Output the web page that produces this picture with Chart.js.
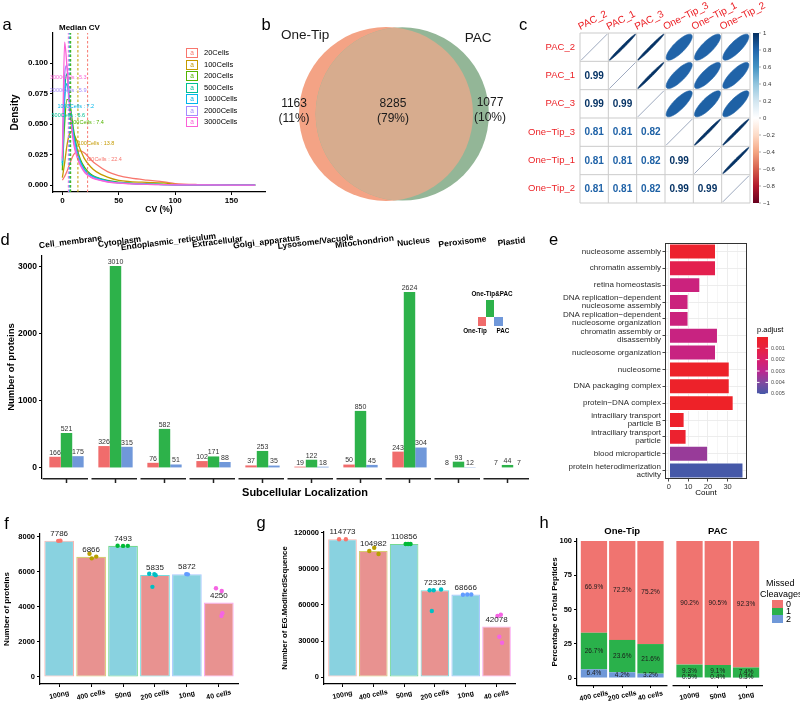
<!DOCTYPE html>
<html>
<head>
<meta charset="utf-8">
<title>Figure</title>
<script src="https://cdn.jsdelivr.net/npm/chart.js@4.4.1/dist/chart.umd.min.js"></script>
<style>
html,body{margin:0;padding:0;background:#fff;}
#root{position:relative;width:800px;height:706px;overflow:hidden;background:#fff;font-family:'Liberation Sans',Arial,Helvetica,sans-serif;color:#000;}
#root canvas{position:absolute;}
.tx{position:absolute;white-space:nowrap;line-height:1;}
.bx{position:absolute;box-sizing:border-box;}
</style>
</head>
<body>
<div id="root"></div>
<script>
/* ===================== DATA ===================== */
/* a: CV density */
const cvGroups = ['20Cells','100Cells','200Cells','500Cells','1000Cells','2000Cells','3000Cells'];
const cvX = [0,2,4,6,8,10,13,16,20,25,30,40,50,60,75,90,100,120,150,171];
const dens20Cells   = [0.004,0.007,0.011,0.016,0.021,0.025,0.0275,0.028,0.026,0.021,0.017,0.011,0.0078,0.0058,0.004,0.0026,0.0012,0.0004,0.0002,0.0001];
const dens100Cells  = [0.006,0.018,0.032,0.041,0.044,0.042,0.036,0.029,0.021,0.015,0.011,0.0065,0.0038,0.0028,0.0022,0.0017,0.0006,0.0002,0.0001,0.0001];
const dens200Cells  = [0.012,0.050,0.070,0.070,0.058,0.045,0.030,0.021,0.014,0.009,0.0065,0.0038,0.0024,0.0016,0.0009,0.0005,0.0003,0.0001,0.0001,0];
const dens500Cells  = [0.016,0.075,0.091,0.072,0.054,0.040,0.027,0.019,0.012,0.008,0.0058,0.0033,0.002,0.0013,0.0007,0.0004,0.0002,0.0001,0,0];
const dens1000Cells = [0.018,0.070,0.083,0.070,0.054,0.041,0.028,0.019,0.012,0.008,0.0058,0.0033,0.002,0.0013,0.0007,0.0004,0.0002,0.0001,0,0];
const dens2000Cells = [0.020,0.090,0.098,0.072,0.051,0.037,0.025,0.017,0.011,0.007,0.005,0.0028,0.0017,0.0011,0.0006,0.0003,0.0002,0.0001,0,0];
const dens3000Cells = [0.022,0.117,0.098,0.070,0.049,0.034,0.023,0.016,0.010,0.0065,0.0046,0.0025,0.0015,0.001,0.0005,0.0003,0.0002,0.0001,0,0];
const medianCV = [22.4,13.8,7.4,6.6,7.2,5.9,5.3];
const densTicksX = [0,50,100,150];
const densTicksY = [0,0.025,0.05,0.075,0.1];

/* b: Venn */
const vennSets = ['One-Tip','PAC'];
const vennOnly = [1163,1077];
const vennShared = 8285;

/* c: correlation */
const corrLabels = ['PAC_2','PAC_1','PAC_3','One\u2212Tip_3','One\u2212Tip_1','One\u2212Tip_2'];
const corrMatrix = [
  [1.00,0.99,0.99,0.81,0.81,0.81],
  [0.99,1.00,0.99,0.81,0.81,0.81],
  [0.99,0.99,1.00,0.82,0.82,0.82],
  [0.81,0.81,0.82,1.00,0.99,0.99],
  [0.81,0.81,0.82,0.99,1.00,0.99],
  [0.81,0.81,0.82,0.99,0.99,1.00]];
const corrBarTicks = [1,0.8,0.6,0.4,0.2,0,-0.2,-0.4,-0.6,-0.8,-1];

/* d: subcellular localization */
const locCategories = ['Cell_membrane','Cytoplasm','Endoplasmic_reticulum','Extracellular','Golgi_apparatus','Lysosome/Vacuole','Mitochondrion','Nucleus','Peroxisome','Plastid'];
const locGroups = ['One-Tip','One-Tip&PAC','PAC'];
const locOneTip = [166,326,76,102,37,19,50,243,8,7];
const locBoth   = [521,3010,582,171,253,122,850,2624,93,44];
const locPAC    = [175,315,51,88,35,18,45,304,12,7];
const locTicksY = [0,1000,2000,3000];

/* e: GO enrichment */
const goTerms = ['nucleosome assembly','chromatin assembly','retina homeostasis',
  ['DNA replication\u2212dependent','nucleosome assembly'],
  ['DNA replication\u2212dependent','nucleosome organization'],
  ['chromatin assembly or','disassembly'],
  'nucleosome organization','nucleosome','DNA packaging complex','protein\u2212DNA complex',
  ['intraciliary transport','particle B'],['intraciliary transport','particle'],
  'blood microparticle',['protein heterodimerization','activity']];
const goCount = [24,24,16,10,10,25,24,31,31,33,8,9,20,38];
const goPadj  = [0.00025,0.00135,0.0025,0.0025,0.0025,0.0026,0.0026,0.0001,0.0001,0.00001,0.0002,0.0003,0.0036,0.00502];
const goTicksX = [0,5,10,15,20,25,30,35];
const padjTicks = [0.001,0.002,0.003,0.004,0.005];

/* f: number of proteins */
const fgSamples = ['100ng','400 cells','50ng','200 cells','10ng','40 cells'];
const protMeans = [7786,6866,7493,5835,5872,4250];
const protReps  = [[7780,7790],[7040,6780,6880],[7500,7490,7495],[5900,5880,5820,5150],[5880,5865],[5070,4910,3640,3490]];
const protJit   = [[-0.03,0.04],[-0.05,0.02,0.16],[-0.17,0.0,0.15],[-0.18,-0.02,0.02,-0.08],[-0.02,0.03],[-0.09,0.09,0.11,0.08]];
const protTicksY = [0,2000,4000,6000,8000];

/* g: number of EG.ModifiedSequence */
const pepMeans = [114773,104982,110856,72323,68666,42078];
const pepReps  = [[114773,114773],[105000,107700,102500],[110856,110856,110856],[72300,72300,72900,55000],[68600,68700,68700],[50800,51900,33600,28600]];
const pepJit   = [[-0.11,0.11],[-0.13,0.03,0.17],[0.05,0.13,0.21],[-0.17,-0.04,0.2,-0.1],[-0.09,0.05,0.18],[0.03,0.14,0.09,0.18]];
const pepTicksY = [0,30000,60000,90000,120000];

/* h: missed cleavages */
const hSamples = ['400 cells','200 cells','40 cells','100ng','50ng','10ng'];
const hFacet   = ['One-Tip','One-Tip','One-Tip','PAC','PAC','PAC'];
const mcLevels = ['0','1','2'];
const mc0 = [66.9,72.2,75.2,90.2,90.5,92.3];
const mc1 = [26.7,23.6,21.6,9.3,9.1,7.4];
const mc2 = [6.4,4.2,3.2,0.5,0.4,0.3];
const hTicksY = [0,25,50,75,100];

/* ===================== STYLE ===================== */
const FF = "'Liberation Sans', Arial, Helvetica, sans-serif";
const hue7 = ['#F8766D','#C49A00','#53B400','#00C094','#00B6EB','#A58AFF','#FB61D7'];
const hue6 = ['#F8766D','#B79F00','#00BA38','#00BFC4','#619CFF','#F564E3'];
const locColors = ['#F06C6C','#2DB24A','#7098DA'];
const mcColors = ['#F07470','#2AB14B','#6F98D8'];
const sampleFill = ['#89D2E0','#E89290','#89D2E0','#E89290','#89D2E0','#E89290'];
const vennColors = ['#F4A385','#93B697'];
const vennOverlap = '#D7AC8E';
const rdbu = ['#67001F','#B2182B','#D6604D','#F4A582','#FDDBC7','#FFFFFF','#D1E5F0','#92C5DE','#4393C3','#2166AC','#053061'];
const padjStops = [[0,'#EE2228'],[0.2,'#E8213F'],[0.4,'#D91E6C'],[0.6,'#BC2690'],[0.8,'#7F4AA0'],[1,'#4558A8']];

Chart.defaults.font.family = FF;
Chart.defaults.color = '#000';

function hexA(hex,a){const n=parseInt(hex.slice(1),16);return 'rgba('+((n>>16)&255)+','+((n>>8)&255)+','+(n&255)+','+a+')';}
function lerpColor(stops,t){
  t=Math.max(0,Math.min(1,t));
  for(let i=1;i<stops.length;i++){
    if(t<=stops[i][0]){
      const t0=stops[i-1][0],c0=stops[i-1][1],t1=stops[i][0],c1=stops[i][1];
      const u=(t-t0)/(t1-t0);const a=parseInt(c0.slice(1),16),b=parseInt(c1.slice(1),16);
      const r=Math.round(((a>>16)&255)*(1-u)+((b>>16)&255)*u),g=Math.round(((a>>8)&255)*(1-u)+((b>>8)&255)*u),bl=Math.round((a&255)*(1-u)+(b&255)*u);
      return 'rgb('+r+','+g+','+bl+')';
    }
  }
  return stops[stops.length-1][1];
}
const rdbuStops = rdbu.map((c,i)=>[i/10,c]);
function corrColor(r){return lerpColor(rdbuStops,(r+1)/2);}
const padjMin=Math.min(...goPadj), padjMax=Math.max(...goPadj);
function padjColor(p){return lerpColor(padjStops,(p-padjMin)/(padjMax-padjMin));}

const root=document.getElementById('root');
function mkCanvas(x,y,w,h){const c=document.createElement('canvas');c.width=w;c.height=h;c.style.left=x+'px';c.style.top=y+'px';c.style.width=w+'px';c.style.height=h+'px';root.appendChild(c);return c;}
function mkText(s,x,y,css,anchor){const d=document.createElement('div');d.className='tx';d.textContent=s;d.style.cssText+='left:'+x+'px;top:'+y+'px;'+(css||'');
  d.style.transform={c:'translate(-50%,-50%)',l:'translate(0,-50%)',r:'translate(-100%,-50%)'}[anchor||'l'];root.appendChild(d);return d;}
function mkBox(x,y,w,h,css){const d=document.createElement('div');d.className='bx';d.style.cssText+='left:'+x+'px;top:'+y+'px;width:'+w+'px;height:'+h+'px;'+(css||'');root.appendChild(d);return d;}
const fixW=w=>s=>{s.width=w;};
const fixH=h=>s=>{s.height=h;};
const setTicks=v=>s=>{s.ticks=v.map(x=>({value:x}));};
const gridT=()=>({display:true,drawOnChartArea:false,drawTicks:true,tickLength:3,color:'#000',tickColor:'#000',tickWidth:1,offset:false});
const bord=()=>({display:true,color:'#000',width:1.2});
function common(extra){return Object.assign({responsive:false,maintainAspectRatio:false,animation:false,devicePixelRatio:1,events:[],
  plugins:{legend:{display:false},tooltip:{enabled:false}}},extra);}
const deg=Math.PI/180;

/* ===================== PANEL a ===================== */
const densSeries=[dens20Cells,dens100Cells,dens200Cells,dens500Cells,dens1000Cells,dens2000Cells,dens3000Cells];
const aX={min:-8.3,max:179.7}, aY={min:-0.0057,max:0.1246};
const medianLabelAt={x:[37.9,29.9,21.9,5.3,11.9,5.1,5.3],y:[0.0213,0.0342,0.0514,0.0568,0.0642,0.0773,0.0880]};
const aDs=[];
cvGroups.forEach((g,i)=>aDs.push({label:g,data:cvX.map((x,k)=>({x:x,y:densSeries[i][k]})),borderColor:hue7[i],backgroundColor:hue7[i],borderWidth:1.3,pointRadius:0,cubicInterpolationMode:'monotone',fill:false,order:20-i}));
cvGroups.forEach((g,i)=>aDs.push({label:g+' median',data:[{x:medianCV[i],y:aY.min},{x:medianCV[i],y:aY.max}],borderColor:hue7[i],borderWidth:1,borderDash:[2.5,2],pointRadius:0,fill:false,order:1}));
const medianLabelPlugin={id:'medlab',afterDatasetsDraw(chart){
  const {ctx,scales:{x,y}}=chart;ctx.save();ctx.font='5.5px '+FF;ctx.textAlign='center';ctx.textBaseline='middle';
  cvGroups.forEach((g,i)=>{ctx.fillStyle=hue7[i];ctx.fillText(g+' : '+medianCV[i],x.getPixelForValue(medianLabelAt.x[i]),y.getPixelForValue(medianLabelAt.y[i]));});
  ctx.restore();}};
new Chart(mkCanvas(0,0,270,215),{type:'line',data:{datasets:aDs},options:common({layout:{padding:{left:0,top:33,right:5,bottom:0}},scales:{
  x:{type:'linear',min:aX.min,max:aX.max,offset:false,afterBuildTicks:setTicks(densTicksX),afterFit:fixH(23),grid:gridT(),border:bord(),
     ticks:{font:{size:8,weight:'bold'},color:'#000',padding:1,maxRotation:0,autoSkip:false,callback:v=>String(v)},
     title:{display:true,text:'CV (%)',font:{size:8.5,weight:'bold'},color:'#000',padding:{top:0,bottom:0}}},
  y:{type:'linear',min:aY.min,max:aY.max,afterBuildTicks:setTicks(densTicksY),afterFit:fixW(53),grid:gridT(),border:bord(),
     ticks:{font:{size:8,weight:'bold'},color:'#000',padding:2,autoSkip:false,callback:v=>Number(v).toFixed(3)},
     title:{display:true,text:'Density',font:{size:10,weight:'bold'},color:'#000',padding:{top:9,bottom:0}}}
}}),plugins:[medianLabelPlugin]});
mkText('Median CV',59,28,'font-size:8px;font-weight:bold;');
cvGroups.forEach((g,i)=>{const cy=53+11.5*i;
  mkBox(186,cy-5,12,10,'border:1.4px solid '+hue7[i]+';background:#fff;');
  mkText('a',192,cy,'font-size:6.5px;color:'+hue7[i]+';','c');
  mkText(g,204,cy,'font-size:7.5px;');});

/* ===================== PANEL b ===================== */
function lens(r1,r2,d){if(d>=r1+r2)return 0;if(d<=Math.abs(r1-r2))return Math.PI*Math.min(r1,r2)**2;
  const a=r1*r1*Math.acos((d*d+r1*r1-r2*r2)/(2*d*r1)),b=r2*r2*Math.acos((d*d+r2*r2-r1*r1)/(2*d*r2));
  const c=0.5*Math.sqrt((-d+r1+r2)*(d+r1-r2)*(d-r1+r2)*(d+r1+r2));return a+b-c;}
const vennSize=[vennOnly[0]+vennShared,vennOnly[1]+vennShared];
const vennTotal=vennOnly[0]+vennOnly[1]+vennShared;
const vennR=[1,Math.sqrt(vennSize[1]/vennSize[0])];
let vlo=Math.abs(vennR[0]-vennR[1])+1e-9,vhi=vennR[0]+vennR[1];
const vTarget=Math.PI*vennShared/vennSize[0];
for(let k=0;k<80;k++){const m=(vlo+vhi)/2;if(lens(vennR[0],vennR[1],m)>vTarget)vlo=m;else vhi=m;}
const vennD=(vlo+vhi)/2;
const vennText={setX:[-0.93,1.06],setY:[0.908,0.874],cntX:[-1.057,0.08,1.195],cntY:[0.034,0.034,0.046]};
const vennPlugin={id:'venn',afterDatasetsDraw(chart){
  const {ctx,scales:{x,y}}=chart;const pts=chart.getDatasetMeta(0).data;
  ctx.save();ctx.beginPath();ctx.arc(pts[0].x,pts[0].y,pts[0].options.radius,0,2*Math.PI);ctx.clip();
  ctx.beginPath();ctx.arc(pts[1].x,pts[1].y,pts[1].options.radius,0,2*Math.PI);ctx.fillStyle=vennOverlap;ctx.fill();ctx.restore();
  ctx.save();ctx.fillStyle='#1a1a1a';ctx.textAlign='center';ctx.textBaseline='middle';
  ctx.font='13.5px '+FF;
  vennSets.forEach((s,i)=>ctx.fillText(s,x.getPixelForValue(vennText.setX[i]),y.getPixelForValue(vennText.setY[i])));
  ctx.font='12px '+FF;
  const counts=[vennOnly[0],vennShared,vennOnly[1]];
  counts.forEach((c,i)=>{const px=x.getPixelForValue(vennText.cntX[i]),py=y.getPixelForValue(vennText.cntY[i]);
    ctx.fillText(String(c),px,py-7);ctx.fillText('('+Math.round(100*c/vennTotal)+'%)',px,py+7.5);});
  ctx.restore();}};
new Chart(mkCanvas(270,0,250,215),{type:'scatter',data:{datasets:[{data:[{x:0,y:0},{x:vennD,y:0}],backgroundColor:vennColors,borderWidth:0,clip:false,
  pointRadius:ctx=>{const s=ctx.chart.scales.x;if(!s||ctx.dataIndex===undefined)return 0;const v=s.getPixelForValue(vennR[ctx.dataIndex])-s.getPixelForValue(0);return isFinite(v)&&v>0?v:0;}}]},
  options:common({layout:{padding:0},scales:{x:{type:'linear',display:false,min:-1.3333,max:1.540},y:{type:'linear',display:false,min:-1.161,max:1.310}}}),plugins:[vennPlugin]});

/* ===================== PANEL c ===================== */
const corrCells=[];
corrLabels.forEach((r,i)=>corrLabels.forEach((c,j)=>corrCells.push({x:j+1,y:i+1,v:corrMatrix[i][j],i:i,j:j})));
const corrPlugin={id:'corr',
  beforeDatasetsDraw(chart){const {ctx,scales:{x,y}}=chart;const n=corrLabels.length;ctx.save();ctx.strokeStyle='#CBCBCB';ctx.lineWidth=1;ctx.beginPath();
    for(let k=0;k<=n;k++){const px=x.getPixelForValue(k+0.5),py=y.getPixelForValue(k+0.5);
      ctx.moveTo(px,y.getPixelForValue(0.5));ctx.lineTo(px,y.getPixelForValue(n+0.5));ctx.moveTo(x.getPixelForValue(0.5),py);ctx.lineTo(x.getPixelForValue(n+0.5),py);}
    ctx.stroke();ctx.restore();},
  afterDatasetsDraw(chart){const {ctx,scales:{x}}=chart;const pts=chart.getDatasetMeta(0).data;const cw=x.getPixelForValue(2)-x.getPixelForValue(1);const a=cw*0.46;
    ctx.save();
    pts.forEach((p,k)=>{const c=corrCells[k];const col=corrColor(c.v);
      if(c.i>c.j){ctx.fillStyle=col;ctx.font='bold 10px '+FF;ctx.textAlign='center';ctx.textBaseline='middle';ctx.fillText(c.v.toFixed(2),p.x,p.y+0.5);}
      else if(c.i<c.j){const d=Math.acos(c.v);ctx.beginPath();
        for(let t=0;t<=72;t++){const th=t/72*2*Math.PI;const ex=Math.cos(th+d/2)*a,ey=Math.cos(th-d/2)*a;if(t===0)ctx.moveTo(p.x+ex,p.y-ey);else ctx.lineTo(p.x+ex,p.y-ey);}
        ctx.closePath();ctx.fillStyle=col;ctx.fill();ctx.strokeStyle=col;ctx.lineWidth=0.6;ctx.stroke();}
      else{ctx.beginPath();ctx.moveTo(p.x-a,p.y+a);ctx.lineTo(p.x+a,p.y-a);ctx.strokeStyle='#8593AE';ctx.lineWidth=0.8;ctx.stroke();}});
    ctx.restore();},
  afterDraw(chart){const {ctx,chartArea:ar,scales:{x,y,cb}}=chart;ctx.save();
    ctx.fillStyle='#EC2227';ctx.font='9.5px '+FF;ctx.textAlign='right';ctx.textBaseline='middle';
    corrLabels.forEach((l,i)=>ctx.fillText(l,ar.left-5,y.getPixelForValue(i+1)));
    ctx.textAlign='left';ctx.textBaseline='alphabetic';ctx.font='10px '+FF;
    corrLabels.forEach((l,j)=>{ctx.save();ctx.translate(x.getPixelForValue(j+1)-14,ar.top-3);ctx.rotate(-27*deg);ctx.fillText(l,0,0);ctx.restore();});
    const top=cb.getPixelForValue(1),bot=cb.getPixelForValue(-1),x0=ar.right+3,w=6;
    const gr=ctx.createLinearGradient(0,top,0,bot);for(let k=0;k<=20;k++){gr.addColorStop(k/20,corrColor(1-2*k/20));}
    ctx.fillStyle=gr;ctx.fillRect(x0,top,w,bot-top);
    ctx.font='6px '+FF;ctx.fillStyle='#333';ctx.strokeStyle='#777';ctx.lineWidth=0.6;ctx.textBaseline='middle';
    corrBarTicks.forEach(v=>{const py=cb.getPixelForValue(v);ctx.beginPath();ctx.moveTo(x0+w,py);ctx.lineTo(x0+w+2,py);ctx.stroke();
      ctx.fillText(v===0?'0':(v<0?'\u2212':'')+Math.abs(v),x0+w+4,py);});
    ctx.restore();}};
new Chart(mkCanvas(520,0,280,215),{type:'scatter',data:{datasets:[{data:corrCells,pointRadius:0,yAxisID:'y',xAxisID:'x'}]},
  options:common({layout:{padding:{left:60,right:50,top:33,bottom:12}},scales:{x:{type:'linear',display:false,min:0.5,max:6.5},y:{type:'linear',display:false,min:0.5,max:6.5,reverse:true},cb:{type:'linear',axis:'y',display:false,min:-1,max:1}}}),plugins:[corrPlugin]});

/* ===================== PANEL d ===================== */
const locSeries=[locOneTip,locBoth,locPAC];
const dPlugin={id:'dplug',afterDraw(chart){const {ctx,chartArea:ar,scales:{x}}=chart;const n=locCategories.length;const w=(ar.right-ar.left)/n;
  ctx.save();ctx.strokeStyle='#222';ctx.lineWidth=1.5;
  for(let i=0;i<n;i++){const cx=x.getPixelForValue(i);ctx.beginPath();ctx.moveTo(ar.left+i*w+0.5,ar.bottom+0.75);ctx.lineTo(ar.left+(i+1)*w-3,ar.bottom+0.75);
    ctx.moveTo(cx,ar.bottom);ctx.lineTo(cx,ar.bottom+5);ctx.stroke();}
  ctx.fillStyle='#333';ctx.font='7px '+FF;ctx.textAlign='center';ctx.textBaseline='bottom';
  locSeries.forEach((s,k)=>{chart.getDatasetMeta(k).data.forEach((b,i)=>ctx.fillText(String(s[i]),b.x,b.y-0.5));});
  ctx.fillStyle='#000';ctx.font='bold 8.5px '+FF;ctx.textBaseline='middle';
  locCategories.forEach((c,i)=>{ctx.save();ctx.translate(x.getPixelForValue(i)+4,ar.top-14);ctx.rotate(-7*deg);ctx.fillText(c,0,0);ctx.restore();});
  ctx.restore();}};
new Chart(mkCanvas(0,225,540,280),{type:'bar',data:{labels:locCategories,datasets:locGroups.map((g,k)=>({label:g,data:locSeries[k],backgroundColor:locColors[k],categoryPercentage:0.7,barPercentage:1.0,borderWidth:0}))},
  options:common({layout:{padding:{left:0,top:31,right:8,bottom:27}},scales:{
    x:{display:false,offset:true},
    y:{type:'linear',min:-150.5,max:3160.5,afterBuildTicks:setTicks(locTicksY),afterFit:fixW(42),grid:gridT(),border:bord(),
       ticks:{font:{size:8.5,weight:'bold'},color:'#000',padding:2,autoSkip:false,callback:v=>String(v)},
       title:{display:true,text:'Number of proteins',font:{size:9.5,weight:'bold'},color:'#000',padding:{top:6,bottom:0}}}}}),plugins:[dPlugin]});
mkText('Subcellular Localization',305,492,'font-size:11px;font-weight:bold;','c');
mkBox(486,300,8,17,'background:'+locColors[1]+';');
mkBox(478,317,8,9,'background:'+locColors[0]+';');
mkBox(494,317,8.5,9,'background:'+locColors[2]+';');
mkText(locGroups[1],492,294,'font-size:6.3px;font-weight:bold;','c');
mkText(locGroups[0],475,331,'font-size:6.3px;font-weight:bold;','c');
mkText(locGroups[2],503,331,'font-size:6.3px;font-weight:bold;','c');

/* ===================== PANEL e ===================== */
const ePlugin={id:'eplug',
  afterDatasetsDraw(chart){const {ctx,chartArea:ar}=chart;ctx.save();ctx.strokeStyle='#333';ctx.lineWidth=1;ctx.strokeRect(ar.left+0.5,ar.top+0.5,ar.right-ar.left-1,ar.bottom-ar.top-1);ctx.restore();},
  afterDraw(chart){const {ctx,chartArea:ar}=chart;const lx=ar.right+10,ly0=ar.top+94,ly1=ar.top+151,w=11;ctx.save();
    ctx.fillStyle='#000';ctx.font='7.5px '+FF;ctx.textAlign='left';ctx.textBaseline='bottom';ctx.fillText('p.adjust',lx,ly0-3);
    const gr=ctx.createLinearGradient(0,ly0,0,ly1);padjStops.forEach(s=>gr.addColorStop(s[0],s[1]));ctx.fillStyle=gr;ctx.fillRect(lx,ly0,w,ly1-ly0);
    ctx.strokeStyle='#fff';ctx.lineWidth=1;ctx.fillStyle='#4D4D4D';ctx.font='5.5px '+FF;ctx.textBaseline='middle';
    padjTicks.forEach(p=>{const py=ly0+(p-padjMin)/(padjMax-padjMin)*(ly1-ly0);ctx.beginPath();ctx.moveTo(lx,py);ctx.lineTo(lx+2.5,py);ctx.moveTo(lx+w-2.5,py);ctx.lineTo(lx+w,py);ctx.stroke();
      ctx.fillText(p.toFixed(3),lx+w+3,py);});
    ctx.restore();}};
new Chart(mkCanvas(540,225,260,280),{type:'bar',data:{labels:goTerms,datasets:[{data:goCount,backgroundColor:goPadj.map(padjColor),borderColor:'#fff',borderWidth:0.8,borderSkipped:false,barPercentage:0.92,categoryPercentage:1}]},
  options:common({indexAxis:'y',layout:{padding:{left:0,top:18,right:53,bottom:0}},scales:{
    x:{type:'linear',min:-1.9,max:39.9,offset:false,afterBuildTicks:setTicks(goTicksX),afterFit:fixH(26),border:{display:false},
       grid:{display:true,drawOnChartArea:true,drawTicks:true,tickLength:2.5,color:'#EBEBEB',lineWidth:c=>(c.tick&&c.tick.value%10===0)?0.9:0.45,tickColor:c=>(c.tick&&c.tick.value%10===0)?'#333':'rgba(0,0,0,0)',offset:false},
       ticks:{font:{size:7.5},color:'#333',padding:1,maxRotation:0,autoSkip:false,callback:v=>(v%10===0?String(v):'')},
       title:{display:true,text:'Count',font:{size:8},color:'#000',padding:{top:0,bottom:7}}},
    y:{afterFit:fixW(125),border:{display:false},grid:{display:true,drawOnChartArea:true,drawTicks:true,tickLength:2.5,color:'#EBEBEB',lineWidth:0.9,tickColor:'#333',offset:false},
       ticks:{font:{size:8,lineHeight:1.05},color:'#2B2B2B',padding:1.5,autoSkip:false}}}}),plugins:[ePlugin]});

/* ===================== PANELS f, g ===================== */
function fgPlugin(samples,means){return {id:'fg',afterDraw(chart){const {ctx,chartArea:ar,scales:{x}}=chart;const bars=chart.getDatasetMeta(1).data;ctx.save();
  ctx.fillStyle='#222';ctx.font='8px '+FF;ctx.textAlign='center';ctx.textBaseline='bottom';
  bars.forEach((b,i)=>ctx.fillText(String(means[i]),b.x,b.y-3));
  ctx.fillStyle='#000';ctx.font='bold 7px '+FF;ctx.textBaseline='middle';
  samples.forEach((s,i)=>{ctx.save();ctx.translate(x.getPixelForValue(i+1),ar.bottom+11);ctx.rotate(-12*deg);ctx.fillText(s,0,0);ctx.restore();});
  ctx.restore();}};}
function barPointsChart(cv,o){
  const pts=[],pc=[];
  o.reps.forEach((r,i)=>r.forEach((v,k)=>{pts.push({x:i+1+o.jit[i][k],y:v});pc.push(hue6[i]);}));
  const n=o.samples.length;
  return new Chart(cv,{type:'bar',data:{datasets:[
    {type:'scatter',data:pts,backgroundColor:pc,borderWidth:0,pointRadius:2.2,order:1},
    {type:'bar',data:o.means.map((v,i)=>({x:i+1,y:v})),backgroundColor:sampleFill,borderColor:hue6.map(c=>hexA(c,0.55)),borderWidth:1.1,borderSkipped:false,categoryPercentage:1,barPercentage:0.93,order:2}]},
    options:common({layout:{padding:o.pad},scales:{
      x:{type:'linear',min:0.4,max:n+0.6,offset:false,afterBuildTicks:setTicks(o.samples.map((s,i)=>i+1)),afterFit:fixH(22),grid:gridT(),border:bord(),ticks:{display:false}},
      y:{type:'linear',min:o.yMin,max:o.yMax,afterBuildTicks:setTicks(o.yTicks),afterFit:fixW(o.yW),grid:gridT(),border:bord(),
         ticks:{font:{size:7.5,weight:'bold'},color:'#000',padding:2,autoSkip:false,callback:v=>String(v)},
         title:{display:true,text:o.yTitle,font:{size:o.tSize,weight:'bold'},color:'#000',padding:{top:o.tPad,bottom:0}}}}}),
    plugins:[fgPlugin(o.samples,o.means)]});
}
barPointsChart(mkCanvas(0,505,270,201),{samples:fgSamples,means:protMeans,reps:protReps,jit:protJit,yMin:-400,yMax:8171,yTicks:protTicksY,yW:40,
  pad:{left:0,top:29,right:32,bottom:0},yTitle:'Number of proteins',tSize:8,tPad:2});
barPointsChart(mkCanvas(270,505,270,201),{samples:fgSamples,means:pepMeans,reps:pepReps,jit:pepJit,yMin:-5833,yMax:120833,yTicks:pepTicksY,yW:54,
  pad:{left:0,top:27,right:25,bottom:0},yTitle:'Number of EG.ModifiedSequence',tSize:7.8,tPad:10});

/* ===================== PANEL h ===================== */
const hFacets=[...new Set(hFacet)];
const hGap=0.18;
const hPos=hSamples.map((s,i)=>i+1+hFacets.indexOf(hFacet[i])*(hGap+0.2));
const hXMax=hPos[hPos.length-1]+0.6;
const mcSeries=[mc0,mc1,mc2];
const hPlugin={id:'hplug',afterDraw(chart){const {ctx,chartArea:ar,scales:{x}}=chart;ctx.save();
  ctx.strokeStyle='#000';ctx.lineWidth=1.2;
  hFacets.forEach(f=>{const idx=hFacet.map((v,i)=>v===f?i:-1).filter(i=>i>=0);const x0=x.getPixelForValue(hPos[idx[0]]-0.6),x1=x.getPixelForValue(hPos[idx[idx.length-1]]+0.6);
    ctx.beginPath();ctx.moveTo(x0,ar.bottom+0.6);ctx.lineTo(x1,ar.bottom+0.6);ctx.stroke();
    ctx.save();ctx.fillStyle='#000';ctx.font='bold 9.5px '+FF;ctx.textAlign='center';ctx.textBaseline='middle';ctx.fillText(f,(x0+x1)/2,ar.top-8);ctx.restore();});
  ctx.fillStyle='#1a1a1a';ctx.font='6.5px '+FF;ctx.textAlign='center';ctx.textBaseline='middle';
  [2,1,0].forEach((lv,k)=>{chart.getDatasetMeta(k).data.forEach((b,i)=>ctx.fillText(mcSeries[lv][i].toFixed(1)+'%',b.x,(b.y+b.base)/2));});
  ctx.fillStyle='#000';ctx.font='bold 7px '+FF;
  hSamples.forEach((s,i)=>{ctx.save();ctx.translate(x.getPixelForValue(hPos[i]),ar.bottom+11);ctx.rotate(-12*deg);ctx.fillText(s,0,0);ctx.restore();});
  ctx.restore();}};
new Chart(mkCanvas(540,505,260,201),{type:'bar',data:{datasets:[2,1,0].map(lv=>({label:mcLevels[lv],data:hPos.map((p,i)=>({x:p,y:mcSeries[lv][i]})),backgroundColor:mcColors[lv],borderWidth:0,categoryPercentage:1,barPercentage:0.93}))},
  options:common({layout:{padding:{left:0,top:34,right:37,bottom:0}},scales:{
    x:{type:'linear',stacked:true,min:0.4,max:hXMax,offset:false,afterBuildTicks:setTicks(hPos),afterFit:fixH(21),grid:gridT(),border:{display:false},ticks:{display:false}},
    y:{type:'linear',stacked:true,min:-5.1,max:101.5,afterBuildTicks:setTicks(hTicksY),afterFit:fixW(37),grid:gridT(),border:bord(),
       ticks:{font:{size:7.5,weight:'bold'},color:'#000',padding:2,autoSkip:false,callback:v=>String(v)},
       title:{display:true,text:'Percentage of Total Peptides',font:{size:8,weight:'bold'},color:'#000',padding:{top:10,bottom:0}}}}}),plugins:[hPlugin]});
mkText('Missed',766,583,'font-size:9px;');
mkText('Cleavages',760,594,'font-size:9px;');
mcLevels.forEach((lv,k)=>{const top=600+7.5*k;mkBox(772,top,11,7.5,'background:'+mcColors[k]+';');mkText(lv,786,top+3.75,'font-size:9px;');});

/* ===================== panel letters ===================== */
[['a',7,23.6],['b',266,24.3],['c',523,24],['d',5,239.3],['e',553.5,238.6],['f',6.5,522.8],['g',261,522],['h',544,521.8]]
  .forEach(l=>mkText(l[0],l[1],l[2],'font-size:16.5px;','c'));
</script>
</body>
</html>
